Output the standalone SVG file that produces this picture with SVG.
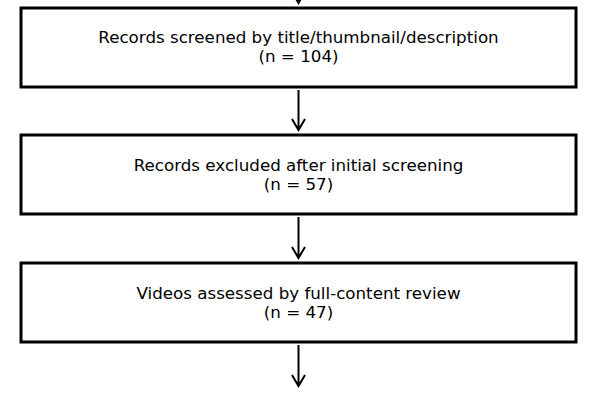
<svg xmlns="http://www.w3.org/2000/svg" width="600" height="400" viewBox="0 0 600 400">
<style>
.box{fill:#fff;stroke:#000;stroke-width:3}
.t{font-family:"DejaVu Sans",sans-serif;font-size:16.7px;fill:#000;text-anchor:middle}
.c{stroke:#000;stroke-width:2;fill:none}
</style>
<rect width="600" height="400" fill="#fff"/>
<g id="connectors">
<path class="c" d="M298.5,-20V3M292,-8L298.5,3L305,-8"/>
<path class="c" d="M298.5,90V130M292,119L298.5,130L305,119"/>
<path class="c" d="M298.5,217V258M292,247L298.5,258L305,247"/>
<path class="c" d="M298.5,345V386M292,375L298.5,386L305,375"/>
</g>
<g id="n1"><rect class="box" x="21" y="8" width="555" height="79"/>
<text class="t" x="298.5" y="43">Records screened by title/thumbnail/description</text>
<text class="t" x="298.5" y="62">(n = 104)</text></g>
<g id="n2"><rect class="box" x="21" y="135" width="555" height="79"/>
<text class="t" x="298.5" y="171">Records excluded after initial screening</text>
<text class="t" x="298.5" y="190">(n = 57)</text></g>
<g id="n3"><rect class="box" x="21" y="263" width="555" height="79"/>
<text class="t" x="298.5" y="299">Videos assessed by full-content review</text>
<text class="t" x="298.5" y="318">(n = 47)</text></g>
</svg>
